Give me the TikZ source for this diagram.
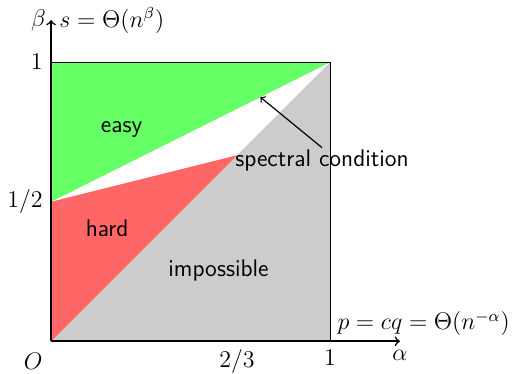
\documentclass[12pt,tikz,border=0pt]{standalone}
\usetikzlibrary{positioning}
\usepackage{amsmath}

\begin{document}
\begin{tikzpicture}[x=4.9cm, y=4.9cm,
    region/.style={font=\sffamily},
    axis/.style={->, thick},
    edge/.style={draw=black}]
\useasboundingbox (-0.183,-0.115) rectangle (1.659,1.223);
% regions
\fill[gray!40] (0,0) -- (1,0) -- (1,1) -- cycle;
\fill[red!60] (0,0) -- (0,0.5) -- (2/3,2/3) -- cycle;
\fill[green!60] (0,0.5) -- (0,1) -- (1,1) -- cycle;
\draw[edge] (0,1) -- (1,1) -- (1,0);
% axes
\coordinate (orig) at (0,0);
\coordinate (xend) at (1.25,0);
\coordinate (yend) at (0,1.151);
\draw[axis] (orig) -- (xend);
\draw[axis] (orig) -- (yend);
\node[below] (alpha) at (xend) {$\alpha$};
\node[left, inner sep=2.5pt] (beta) at (yend) {$\beta$};
\node[right] (slab) at (yend) {$s=\Theta(n^{\beta})$};
\node[above right, inner sep=2.5pt, xshift=1pt] (plab) at (1,0) {$p=cq=\Theta(n^{-\alpha})$};
\node (zero) at (-0.0645,-0.072) {$O$};
\node[below] (xone) at (1,0) {$1$};
\node[below] (xtwo) at (2/3,0) {$2/3$};
\node[left] (yone) at (0,1) {$1$};
\node[left] (yhalf) at (0,0.5) {$1/2$};
% labels
\node[region] (easy) at (0.253,0.759) {easy};
\node[region] (hard) at (0.201,0.406) {hard};
\node[region] (imp) at (0.600,0.252) {impossible};
\coordinate (target) at (0.75,0.875);
\node[region, inner sep=1pt] (spec) at (0.971,0.647) {spectral condition};
\draw[->, semithick] (spec.north) -- (target);
\end{tikzpicture}
\end{document}
